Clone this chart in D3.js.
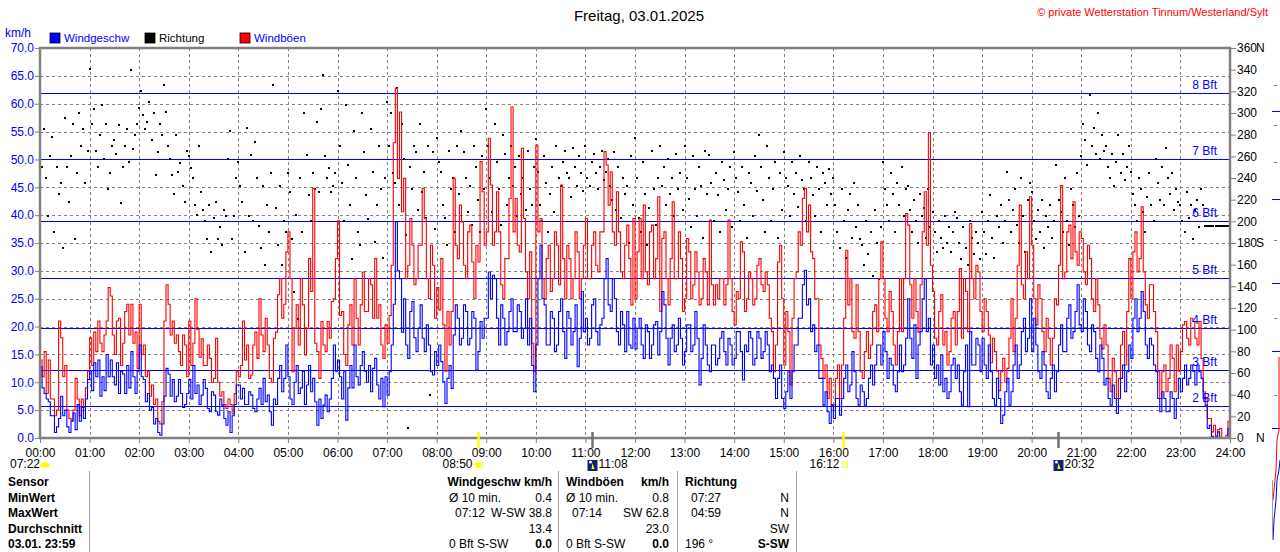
<!DOCTYPE html>
<html>
<head>
<meta charset="utf-8">
<script src="https://cdn.jsdelivr.net/npm/d3@7"></script>
<style>
  body { margin: 0; background: #fff; }
  text { font-family: "Liberation Sans", Arial, sans-serif; font-size: 12px; }
</style>
</head>
<body>
<div id="chart"></div>
<script>
// Windgeschwindigkeit (km/h), alle 2,5 Minuten von 00:00 bis 24:00 (eine Zeile je Stunde)
var windgeschw = [
  12.8, 9, 8, 7, 6.5, 4, 4, 1, 2, 3.5, 7.5, 4, 5, 2, 1, 3, 4.5, 1.5, 6, 3, 5.5, 3.5, 7, 10.5,
  12, 8.5, 13.5, 11, 14, 7.5, 11, 8.5, 15, 11, 14, 11, 9.5, 13.5, 8, 12, 11.5, 8, 13, 9, 15.5, 11, 8, 12,
  16.7, 11, 10.5, 6.5, 8, 5, 5.5, 2.5, 3.5, 1, 0.5, 2.5, 7.5, 12.5, 11.5, 7.5, 10.5, 6.5, 7.5, 10.5, 8, 5.5, 6, 8,
  10.5, 7, 13, 8, 9.5, 6, 7.7, 10.5, 8.9, 5.3, 4.7, 8.3, 7.7, 4.7, 4.1, 7, 5.9, 3.5, 2.3, 4.7, 1, 4, 6, 9.5,
  9.5, 7, 8.9, 6, 6, 8.3, 7.7, 5.3, 4.7, 7, 8.9, 6, 10.7, 6.5, 7.7, 4.7, 2.3, 7, 6, 10.7, 13, 8.3, 10.7, 16.7,
  11, 7, 6, 10, 13, 8, 9, 12, 6, 9.5, 13, 8.3, 10.7, 6.5, 2.3, 7, 3.5, 5.9, 7.7, 4.7, 7, 10.7, 16.7, 12,
  14, 11, 7, 11.9, 3.2, 9, 13, 9, 16.7, 11, 9.5, 13, 15.5, 12, 10, 13, 8.3, 12.5, 14.3, 9.5, 7, 10.7, 5.6, 11,
  7.7, 11.9, 16.7, 24, 38.8, 30, 28.6, 19, 25, 16.7, 14.3, 22.7, 24.5, 18, 15.5, 19.7, 23.9, 17.9, 15.5, 20.3, 16.7, 11.9, 11.3, 15.5,
  13, 16.7, 13.7, 10.1, 6.2, 10.7, 13, 8.9, 18.5, 23.9, 21.5, 16.7, 17.9, 23.9, 22.7, 16.7, 17.9, 22.7, 21.5, 12.2, 15.5, 20.9, 17.9, 21.5,
  21.5, 29.8, 25, 29.2, 28.6, 21.5, 16.7, 23.9, 21.5, 16.7, 19.1, 22.7, 25, 19.1, 19.1, 23.9, 22.7, 17.9, 19.7, 25, 16.7, 21.5, 13, 8.3,
  16.7, 28.6, 34.6, 25, 23.9, 16.7, 16.7, 22.7, 21.5, 15.5, 16.7, 22.7, 25, 19.1, 14.3, 22.7, 21.5, 16.7, 19.1, 23.9, 12.8, 17.9, 26.3, 19.1,
  21.5, 16.7, 17.9, 23.9, 25, 19.1, 16.7, 20.3, 21.5, 28.6, 32.2, 23.9, 22.7, 28.6, 25, 19.1, 16.7, 22.7, 20.3, 15.5, 22.7, 16.7, 16.1, 21.5,
  16, 19.7, 21.5, 16.7, 14.3, 20.3, 19.1, 14.3, 16.7, 20.3, 20.9, 14.9, 19.1, 26.3, 23.9, 17.9, 13.1, 17.9, 20.3, 15.5, 16.7, 21.5, 17.9, 13.1,
  15.5, 20.3, 20.3, 15.5, 16.7, 22.7, 17.9, 9.5, 14.3, 20.3, 16.7, 13.1, 11.9, 16.7, 16.7, 13.1, 14.3, 17.9, 19.1, 15.5, 13.1, 17.9, 16.7, 13.1,
  14.3, 19.1, 19.1, 15.5, 10.4, 16.7, 15.5, 19.1, 17.9, 13.1, 14.3, 19.1, 17.9, 14.3, 15.5, 19.1, 16.7, 11.9, 13.1, 10.7, 7.1, 10.7, 13.1, 7.1,
  5.3, 8.3, 11.9, 7.1, 11.9, 16.7, 16.7, 21.5, 21.5, 27.5, 30.1, 23.9, 25, 19.1, 20.3, 15.5, 16.7, 10.7, 10.7, 5.9, 8.3, 4.7, 2.6, 5.9,
  3.5, 7.1, 7.1, 4.1, 7.1, 10.7, 13.1, 8.3, 9.5, 15.5, 11.9, 7.1, 5.9, 9.5, 8.3, 5.9, 7.1, 10.7, 13.1, 9.5, 13.1, 16.7, 16.7, 13.1,
  19.1, 15.5, 10.7, 14.3, 13.1, 9.5, 8.3, 11.9, 16.7, 11.9, 13.1, 17.9, 25, 17.9, 14.3, 20.3, 10.7, 16.7, 19.1, 25, 28.6, 19.1, 21.5, 13.1,
  16.7, 10.7, 13.1, 9.5, 14.9, 8.3, 10.7, 7.1, 8.3, 13.1, 14.3, 10.7, 13.1, 8.3, 5.9, 11.9, 16.7, 5.6, 19.1, 13.1, 13.1, 17.9, 16.7, 11.9,
  17.9, 13.1, 10.7, 16.7, 11.9, 7.1, 5.9, 10.7, 7.1, 2.6, 4.1, 8.3, 10.7, 5.9, 8.3, 13.1, 16.7, 10.7, 13.1, 19.1, 21.5, 15.5, 17.9, 25,
  15.5, 21.5, 16.7, 11.9, 10.7, 15.5, 13.1, 8.3, 7.1, 10.7, 13.1, 8.3, 11.9, 16.7, 20.3, 15.5, 15.5, 21.5, 23.9, 17.9, 19.1, 22.7, 27.5, 20.3,
  19.1, 25, 22.7, 16.7, 15.5, 20.3, 19.1, 14.3, 11.9, 16.7, 14.3, 9.5, 10.7, 7.1, 5.9, 9.5, 7.1, 4.4, 7.1, 10.7, 13.1, 8.3, 11.9, 16.7,
  14.3, 21.5, 25, 19.1, 21.5, 26.3, 22.7, 16.7, 14.3, 17.9, 16.7, 13.1, 11.9, 7.1, 4.7, 8.3, 7.1, 4.7, 4.7, 8.3, 7.1, 3.5, 7.1, 10.7,
  8.3, 10.7, 13.1, 9.5, 10.7, 13.1, 12, 9.5, 13.1, 11.9, 10.7, 7.1, 5.9, 1.7, 2.3, 0.3, 0, 0.3, 1.1, 0, 0, 0, 0, 1.7,
  0
];

// Windböen (km/h), alle 2,5 Minuten
var windboeen = [
  14, 11, 15.5, 8, 14, 7, 7, 4, 5, 21, 18, 11, 13, 5, 3.5, 3.2, 5, 10.7, 7, 4, 7, 5.5, 9, 12,
  18, 13, 19, 15.5, 21, 17, 15.5, 18.5, 21, 27, 25.5, 18.5, 15, 21, 21.5, 13, 17, 22.7, 24, 18.5, 24, 17, 19, 12.5,
  24, 15, 16.7, 11, 12, 7.5, 9.5, 6, 7, 3, 2.5, 6.5, 21, 27.5, 24, 18.5, 21, 17, 18.5, 15.5, 13, 18.5, 16.7, 11,
  21, 13, 17, 25, 19.5, 14.5, 17.8, 13, 13, 16.7, 14.3, 10, 10.7, 17.9, 10, 7.5, 8.3, 6, 5.3, 7, 6, 4.3, 8, 12,
  11, 13, 21, 14, 16.7, 10.7, 11.3, 16.7, 19, 14.3, 25, 18.5, 15.5, 21.5, 16.7, 10.7, 10, 17.9, 19, 25.7, 28.6, 21.5, 24, 33.4,
  37, 28.6, 11.9, 19.7, 23.9, 16.7, 28.6, 23.9, 14.9, 19.7, 32.2, 26.3, 44.8, 17, 15.5, 10.7, 20.9, 16.7, 15.5, 20.9, 17.9, 24.5, 25, 32.2,
  39, 22, 22.7, 15, 13, 20.3, 23.9, 16.7, 28.6, 21.5, 16.7, 23.9, 29.8, 22.7, 22.7, 28.6, 27.5, 21.5, 32.2, 21.5, 23.9, 16.7, 14.3, 20.3,
  17, 22, 31, 53, 62.8, 46.6, 58.5, 40.6, 46.6, 28.6, 31, 39.4, 34.6, 27.5, 28.6, 34.6, 34.6, 44.8, 39.4, 28.6, 25, 34.6, 31, 21.5,
  27, 23, 32.2, 20.3, 12, 22.7, 16.7, 22.7, 46.6, 34.6, 32.2, 41.8, 38.8, 31, 28.6, 37, 38.2, 31.6, 25, 34.6, 31.6, 49.6, 44.2, 34.6,
  37, 53.8, 45.4, 34.6, 37, 44.2, 37, 27.5, 25, 32.2, 32.2, 43, 59.4, 37, 43, 34.6, 33.4, 52, 39.4, 29.8, 25, 33.4, 17, 12,
  52.6, 37, 39.4, 28.6, 25, 32.2, 34.6, 26.3, 28.6, 37, 34.6, 27.5, 45.4, 32.2, 25, 34.6, 32.2, 25, 28.6, 37, 33.4, 25, 28.6, 34.6,
  39.4, 28.6, 28.6, 34.6, 37, 31, 29.8, 37, 37, 51.4, 49, 41.8, 47.8, 37, 34.6, 44.2, 37, 29.8, 28.6, 34.6, 38.2, 32.2, 23.9, 39.4,
  25, 33.4, 39.4, 28.6, 41.8, 29.8, 27.5, 37, 38.2, 28.6, 32.2, 43.3, 22.7, 35.8, 37, 28.6, 23.9, 32.2, 42.4, 28.6, 28.6, 37, 32.2, 22.7,
  25, 35.8, 33.4, 25, 27.5, 33.4, 29.8, 23.9, 25, 32.2, 29.8, 23.9, 39.1, 27.5, 23.9, 27.5, 25, 28.6, 28.6, 23.9, 27.5, 39.1, 28.6, 22.7,
  20.3, 26.3, 25, 35.2, 33.4, 22.7, 25, 29.8, 28.6, 23.9, 25, 31, 32.2, 27.5, 26.3, 29.8, 27.5, 21.5, 19.1, 11.9, 16.7, 31.6, 34.6, 25,
  13.1, 22.7, 19.1, 9.5, 21.5, 28.6, 29.8, 37, 34.6, 43, 44.8, 37, 41.8, 33.4, 32.2, 25, 25, 16.7, 14.3, 10.7, 13.1, 7.1, 10.7, 6,
  6, 10.7, 13.1, 7.1, 13.1, 21.5, 33.7, 23.9, 28.6, 19.1, 17.9, 27.5, 19.1, 11.9, 10.7, 15.5, 19.1, 14.3, 16.7, 22.7, 23.9, 19.1, 28.6, 35.2,
  28.6, 21.5, 19.1, 26.3, 22.7, 16.7, 13.1, 19.1, 28.6, 19.1, 28.6, 40.3, 38.2, 27.5, 21.5, 28.6, 22.7, 19, 27.5, 37, 44.2, 34.6, 54.8, 31,
  26.3, 17.9, 16.7, 22.7, 25.7, 16.7, 19.1, 13.1, 15.5, 21.5, 22.7, 16.7, 22.7, 30.4, 17.9, 28.6, 26.3, 19.1, 38.5, 28.6, 25, 31, 29.8, 22.7,
  19.1, 25, 22.7, 18.5, 13.5, 17.9, 15.5, 12, 8.5, 11.9, 14.3, 10, 12.5, 17.9, 25, 15.5, 21.5, 31, 41.8, 27.5, 25, 33.4, 28.6, 43.3,
  34.6, 25, 20.3, 27.5, 25, 19.1, 15.5, 21.5, 17.9, 13.1, 17.9, 25, 23.9, 31, 45.3, 28.6, 29.8, 37, 38.2, 32.2, 42.4, 33.4, 31, 37,
  35.8, 29.8, 27.5, 34.6, 32.2, 25, 22.7, 28.6, 23.9, 17.9, 16, 20.3, 16.7, 10.7, 8.3, 14.3, 11.9, 7.1, 10.7, 16.7, 19.1, 13.1, 22.7, 32.2,
  25, 33.4, 37, 29.8, 32.2, 41.5, 29.8, 23.9, 21.5, 27.5, 27.5, 22.7, 19.1, 11.9, 7.1, 11.9, 13.1, 8.3, 10.7, 16.7, 14.3, 8.3, 16.7, 12,
  15.5, 20.3, 20.9, 17.9, 16.7, 21.5, 20.9, 17.9, 16.7, 20.9, 14.3, 8.3, 7.1, 3.5, 3.5, 1.1, 2.3, 0.3, 1.5, 1.7, 0, 0, 0.5, 3,
  1
];

// Windrichtung (Grad), alle 2,5 Minuten
var richtung = [
  300, 250, 285, 240, 205, 260, 278, 190, 250, 225, 235, 175, 295, 250, 218, 260, 290, 184, 245, 300, 270, 285, 235, 265,
  341, 290, 304, 265, 250, 280, 307, 258, 290, 230, 245, 270, 275, 262, 289, 217, 250, 270, 285, 255, 340, 267, 280, 290,
  305, 320, 298, 285, 292, 310, 275, 300, 243, 264, 290, 280, 326, 301, 270, 258, 243, 225, 280, 246, 254, 233, 218, 265,
  260, 249, 240, 215, 206, 270, 227, 210, 200, 184, 215, 172, 203, 218, 184, 195, 178, 210, 205, 258, 283, 184, 205, 240,
  255, 233, 218, 172, 286, 205, 261, 200, 273, 240, 196, 175, 233, 160, 215, 190, 245, 326, 212, 178, 233, 160, 200, 190,
  245, 227, 184, 135, 206, 110, 240, 190, 300, 261, 224, 200, 245, 230, 292, 227, 304, 335, 260, 240, 249, 227, 233, 245,
  320, 270, 235, 200, 307, 252, 215, 165, 283, 240, 190, 178, 300, 264, 224, 202, 285, 246, 181, 215, 270, 230, 166, 240,
  310, 270, 300, 245, 235, 323, 215, 290, 258, 187, 9, 250, 230, 270, 264, 210, 290, 227, 246, 203, 270, 40, 264, 193,
  277, 255, 246, 215, 203, 178, 265, 230, 240, 190, 270, 225, 283, 264, 240, 209, 233, 197, 270, 250, 220, 190, 260, 230,
  304, 270, 240, 209, 290, 255, 230, 197, 280, 262, 215, 240, 270, 233, 250, 205, 260, 225, 240, 210, 265, 230, 215, 250,
  276, 246, 215, 200, 260, 235, 190, 225, 250, 209, 270, 240, 233, 255, 265, 245, 240, 222, 268, 250, 233, 260, 245, 228,
  270, 240, 233, 255, 262, 245, 230, 250, 265, 238, 246, 258, 233, 220, 264, 210, 250, 203, 240, 225, 233, 180, 260, 215,
  277, 240, 203, 190, 255, 225, 178, 212, 265, 230, 197, 240, 270, 233, 250, 215, 258, 225, 240, 205, 262, 230, 245, 210,
  270, 240, 221, 195, 260, 230, 205, 250, 233, 185, 265, 225, 261, 235, 200, 245, 224, 190, 255, 238, 210, 230, 250, 195,
  264, 240, 227, 200, 250, 215, 185, 245, 235, 205, 260, 228, 280, 250, 220, 190, 270, 240, 200, 230, 255, 185, 245, 210,
  264, 240, 233, 205, 255, 225, 245, 213, 260, 238, 230, 200, 255, 240, 224, 205, 250, 230, 190, 245, 235, 215, 248, 225,
  240, 215, 190, 175, 230, 200, 166, 210, 225, 185, 235, 195, 215, 184, 178, 160, 200, 170, 190, 150, 210, 180, 147, 195,
  255, 230, 215, 200, 245, 225, 190, 235, 215, 250, 205, 230, 233, 210, 190, 220, 200, 180, 225, 205, 212, 185, 230, 195,
  209, 190, 172, 200, 185, 175, 205, 180, 195, 172, 190, 209, 203, 180, 165, 195, 175, 160, 200, 185, 170, 190, 180, 165,
  209, 190, 170, 200, 224, 185, 166, 205, 195, 215, 180, 200, 246, 220, 190, 210, 230, 197, 180, 240, 205, 172, 220, 235,
  227, 200, 184, 210, 190, 220, 175, 205, 195, 215, 185, 200, 252, 220, 209, 190, 240, 200, 178, 230, 215, 195, 245, 205,
  260, 290, 275, 252, 317, 270, 286, 262, 300, 258, 280, 265, 270, 250, 240, 262, 233, 255, 280, 245, 262, 238, 250, 270,
  246, 225, 215, 200, 240, 230, 209, 190, 222, 245, 215, 200, 258, 235, 220, 250, 215, 268, 240, 225, 245, 210, 230, 218,
  215, 200, 190, 227, 203, 215, 184, 210, 220, 195, 230, 215, 196, 196, 196, 196, 196, 196, 196, 196, 196, 196, 196, 196
];

// Beaufort-Grenzen (km/h) und Namen
var bftWerte = [5.76, 12.24, 19.8, 28.8, 38.9, 50.0, 61.9];
var bftNamen = ["2 Bft", "3 Bft", "4 Bft", "5 Bft", "6 Bft", "7 Bft", "8 Bft"];

// Sonnen- und Mondereignisse
var ereignisZeiten = ["08:50", "11:08", "16:12", "20:32"];
var ereignisArten = ["sonne", "mond", "sonne2", "mond"];

// Tabelle unten
var zeilenNamen = ["Sensor", "MinWert", "MaxWert", "Durchschnitt", "03.01.  23:59"];
var geschwLinks = ["Ø 10 min.", "07:12", "", "0 Bft S-SW"];
var geschwRechts = ["0.4", "W-SW 38.8", "13.4", "0.0"];
var boeenLinks = ["Ø 10 min.", "07:14", "", "0 Bft S-SW"];
var boeenRechts = ["0.8", "SW 62.8", "23.0", "0.0"];
var richtLinks = ["07:27", "04:59", "", "196 °"];
var richtRechts = ["N", "N", "SW", "S-SW"];

var svgWidth = 1280;
var svgHeight = 552;
var plot = { left: 40, right: 1230, top: 48, bottom: 438 };
var schritt = 2.5; // minutes between samples

var svg = d3.select("#chart")
  .append("svg")
  .attr("width", svgWidth)
  .attr("height", svgHeight);

// Scales (minutes of the day, km/h, degrees)
var x = d3.scaleLinear().domain([0, 1440]).range([plot.left, plot.right]);
var y = d3.scaleLinear().domain([0, 70]).range([plot.bottom, plot.top]);
var yDir = d3.scaleLinear().domain([0, 360]).range([plot.bottom, plot.top]);

function minuten(s) {
  var p = s.split(":");
  return +p[0] * 60 + +p[1];
}

// dashed grid
var grid = svg.append("g").attr("stroke", "#808080").attr("stroke-dasharray", "3,3");
grid.selectAll(".v").data(d3.range(60, 1440, 60)).enter().append("line")
  .attr("x1", d => Math.round(x(d)) + 0.5).attr("x2", d => Math.round(x(d)) + 0.5)
  .attr("y1", plot.top).attr("y2", plot.bottom);
grid.selectAll(".h").data(d3.range(5, 70, 5)).enter().append("line")
  .attr("x1", plot.left).attr("x2", plot.right)
  .attr("y1", d => Math.round(y(d)) + 0.5).attr("y2", d => Math.round(y(d)) + 0.5);

// Beaufort lines
svg.append("g").selectAll("line").data(bftWerte).enter().append("line")
  .attr("x1", plot.left).attr("x2", plot.right)
  .attr("y1", d => Math.round(y(d)) + 0.5).attr("y2", d => Math.round(y(d)) + 0.5)
  .attr("stroke", "#0000ff").attr("stroke-width", 1);

// direction dots
svg.append("g").selectAll("rect").data(richtung).enter().append("rect")
  .attr("x", (d, i) => Math.round(x(i * schritt)) - 1)
  .attr("y", d => Math.round(yDir(d)) - 1)
  .attr("width", 2).attr("height", 2)
  .attr("fill", "#000");

// gusts and speed
var linie = function (werte) {
  return d3.line()
    .x((d, i) => x(i * schritt))
    .y(d => y(d))
    .curve(d3.curveStepAfter)(werte);
};

svg.append("path").attr("d", linie(windboeen))
  .attr("fill", "none").attr("stroke", "#ff0000").attr("stroke-width", 1.1);
svg.append("path").attr("d", linie(windgeschw))
  .attr("fill", "none").attr("stroke", "#0000ff").attr("stroke-width", 1.1);

// Bft labels
svg.append("g").selectAll("text").data(bftWerte).enter().append("text")
  .attr("x", 1217).attr("y", d => y(d) - 4)
  .attr("text-anchor", "end").attr("fill", "#0000ff")
  .text((d, i) => bftNamen[i]);

// frame
svg.append("rect")
  .attr("x", plot.left).attr("y", plot.top)
  .attr("width", plot.right - plot.left).attr("height", plot.bottom - plot.top)
  .attr("fill", "none").attr("stroke", "#808080").attr("stroke-width", 2.5);

// left axis
var leftAxis = d3.axisLeft(y).tickValues(d3.range(0, 71, 5))
  .tickFormat(d3.format(".1f")).tickSize(5).tickPadding(1);
var gL = svg.append("g").attr("transform", `translate(${plot.left},0)`).call(leftAxis);
gL.select(".domain").remove();
gL.selectAll("line").attr("stroke", "#808080");
gL.selectAll("text").attr("fill", "#0000ff").attr("font-size", 12)
  .style("font-family", "'Liberation Sans', Arial, sans-serif");

// right axis (direction)
var rightAxis = d3.axisRight(yDir).tickValues(d3.range(0, 361, 20))
  .tickFormat(d => d).tickSize(6).tickPadding(1);
var gR = svg.append("g").attr("transform", `translate(${plot.right},0)`).call(rightAxis);
gR.select(".domain").remove();
gR.selectAll("line").attr("stroke", "#808080");
gR.selectAll("text").attr("fill", "#000").attr("font-size", 12)
  .style("font-family", "'Liberation Sans', Arial, sans-serif");
var himmel = { 360: "N", 180: "S", 0: "N" };
svg.append("g").selectAll("text").data([360, 180, 0]).enter().append("text")
  .attr("x", 1256).attr("y", d => yDir(d) + 4)
  .text(d => himmel[d]);

// bottom axis
var bottomAxis = d3.axisBottom(x).tickValues(d3.range(0, 1441, 60))
  .tickFormat(d => String(d / 60).padStart(2, "0") + ":00").tickSize(5).tickPadding(5);
var gB = svg.append("g").attr("transform", `translate(0,${plot.bottom})`).call(bottomAxis);
gB.select(".domain").remove();
gB.selectAll("line").attr("stroke", "#808080");
gB.selectAll("text").attr("fill", "#000").attr("font-size", 12)
  .style("font-family", "'Liberation Sans', Arial, sans-serif");

// title, copyright, legend
svg.append("text").attr("x", 639).attr("y", 21).attr("text-anchor", "middle")
  .style("font-size", "15px").text("Freitag, 03.01.2025");
svg.append("text").attr("x", 1268).attr("y", 16).attr("text-anchor", "end")
  .attr("fill", "#ff0000").style("font-size", "11px")
  .text("© private Wetterstation Tinnum/Westerland/Sylt");
svg.append("text").attr("x", 5).attr("y", 37).attr("fill", "#0000ff").text("km/h");

var legende = [
  { name: "Windgeschw", farbe: "#0000ff", text: "#0000ff", x: 50 },
  { name: "Richtung", farbe: "#000000", text: "#000000", x: 145 },
  { name: "Windböen", farbe: "#ff0000", text: "#0000ff", x: 240 }
];
var lg = svg.append("g").selectAll("g").data(legende).enter().append("g");
lg.append("rect").attr("x", d => d.x).attr("y", 33).attr("width", 10).attr("height", 10)
  .attr("fill", d => d.farbe).attr("stroke", "#000").attr("stroke-width", 0.8);
lg.append("text").attr("x", d => d.x + 14).attr("y", 42).attr("fill", d => d.text)
  .style("font-size", "11.5px").text(d => d.name);

// event markers below the axis
var ev = svg.append("g");
ev.append("text").attr("x", 10).attr("y", 468).text("07:22");
ev.append("path").attr("d", "M40,467 A5,5 0 0 1 50,467 Z").attr("fill", "#ffff00");

ereignisZeiten.forEach(function (z, i) {
  var px = Math.round(x(minuten(z))) + 0.5;
  var art = ereignisArten[i];
  ev.append("line").attr("x1", px).attr("x2", px).attr("y1", 432).attr("y2", 448)
    .attr("stroke", art === "mond" ? "#707070" : "#ffff00").attr("stroke-width", 2.5);
  if (art === "sonne") {
    ev.append("text").attr("x", px - 6).attr("y", 468).attr("text-anchor", "end").text(z);
    ev.append("circle").attr("cx", px).attr("cy", 465).attr("r", 3).attr("fill", "#ffff00");
    ev.append("circle").attr("cx", px).attr("cy", 465).attr("r", 5).attr("fill", "none")
      .attr("stroke", "#ffff00").attr("stroke-dasharray", "1.5,1.5");
  } else if (art === "sonne2") {
    ev.append("text").attr("x", px - 4).attr("y", 468).attr("text-anchor", "end").text(z);
    ev.append("rect").attr("x", px - 1).attr("y", 462).attr("width", 5).attr("height", 5)
      .attr("fill", "none").attr("stroke", "#ffff00");
  } else {
    ev.append("rect").attr("x", px - 5).attr("y", 460).attr("width", 10).attr("height", 11)
      .attr("fill", "#10207a");
    ev.append("circle").attr("cx", px - 2).attr("cy", 462).attr("r", 1.5).attr("fill", "#fff");
    ev.append("path").attr("d", `M${px - 1},469 L${px},463 L${px + 2},469 Z`).attr("fill", "#ffff00");
    ev.append("text").attr("x", px + 6).attr("y", 468).text(z);
  }
});

// table
var tab = svg.append("g");
[89, 558, 677, 796].forEach(function (lx) {
  tab.append("line").attr("x1", lx + 0.5).attr("x2", lx + 0.5).attr("y1", 471).attr("y2", 552)
    .attr("stroke", "#a0a0a0");
});
var zeileY = function (i) { return 486 + i * 15.5; };
zeilenNamen.forEach(function (n, i) {
  tab.append("text").attr("x", 8).attr("y", zeileY(i)).attr("font-weight", "bold").text(n);
});
tab.append("text").attr("x", 552).attr("y", zeileY(0)).attr("text-anchor", "end")
  .attr("font-weight", "bold").text("Windgeschw km/h");
tab.append("text").attr("x", 566).attr("y", zeileY(0)).attr("font-weight", "bold").text("Windböen");
tab.append("text").attr("x", 669).attr("y", zeileY(0)).attr("text-anchor", "end")
  .attr("font-weight", "bold").text("km/h");
tab.append("text").attr("x", 685).attr("y", zeileY(0)).attr("font-weight", "bold").text("Richtung");

function spalte(links, rechts, lx, rx) {
  links.forEach(function (t, i) {
    var dx = (t.length === 5 && t.indexOf(":") === 2) ? 6 : 0;
    tab.append("text").attr("x", lx + dx).attr("y", zeileY(i + 1)).text(t);
  });
  rechts.forEach(function (t, i) {
    tab.append("text").attr("x", rx).attr("y", zeileY(i + 1)).attr("text-anchor", "end")
      .attr("font-weight", i === 3 ? "bold" : "normal").text(t);
  });
}
spalte(geschwLinks, geschwRechts, 449, 552);
spalte(boeenLinks, boeenRechts, 566, 669);
spalte(richtLinks, richtRechts, 685, 789);

// sliver of the neighbouring chart at the right edge
var nachbarBlau = [111, 199, 283, 351, 428];
var nachbarGrau = [85, 125, 162, 240, 318, 395];
var rand = svg.append("g");
rand.selectAll(".b").data(nachbarBlau).enter().append("line")
  .attr("x1", 1272).attr("x2", 1280).attr("y1", d => d + 0.5).attr("y2", d => d + 0.5)
  .attr("stroke", "#0000ff");
rand.selectAll(".g").data(nachbarGrau).enter().append("line")
  .attr("x1", 1274).attr("x2", 1280).attr("y1", d => d + 0.5).attr("y2", d => d + 0.5)
  .attr("stroke", "#808080").attr("stroke-dasharray", "3,3");
rand.append("path").attr("d", "M1279,357 L1279,430 L1277,440 L1276,470 L1273,500")
  .attr("fill", "none").attr("stroke", "#ff0000");
rand.append("path").attr("d", "M1273,540 L1274,520 L1276,500 L1277,480 L1279,470 L1280,460")
  .attr("fill", "none").attr("stroke", "#0000ff");
rand.append("line").attr("x1", 1272.5).attr("x2", 1272.5).attr("y1", 480).attr("y2", 540)
  .attr("stroke", "#a0a0a0");
</script>
</body>
</html>
